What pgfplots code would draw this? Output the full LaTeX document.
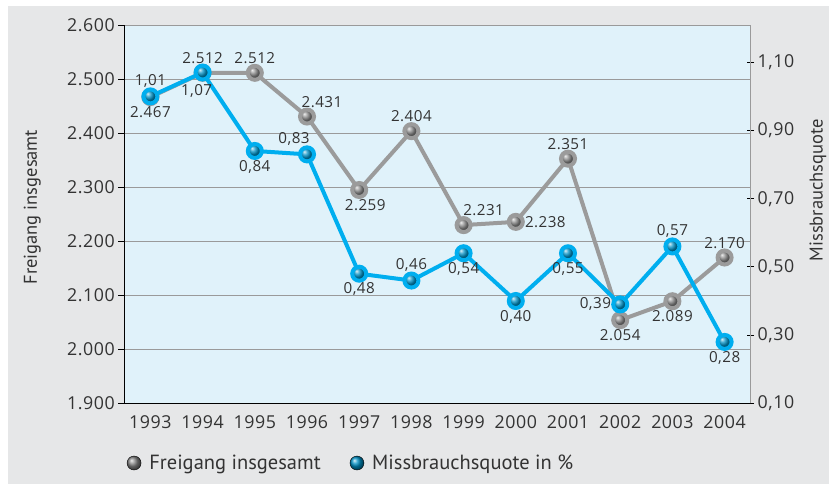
\documentclass[border=0pt]{standalone}
\usepackage{pgfplots}
\pgfplotsset{compat=1.18}
\usepackage{fontspec}
\setmainfont{PT Sans}
\newfontfamily\numfont{Open Sans}[LetterSpace=3]
\definecolor{outerbg}{HTML}{E6E7E8}
\definecolor{plotbg}{HTML}{E0F2FA}
\definecolor{gridgray}{HTML}{9A9A9A}
\definecolor{serGray}{HTML}{9B9B9B}
\definecolor{serBlue}{HTML}{00AEEF}
\definecolor{markBlue}{HTML}{0090C4}
\definecolor{markGray}{HTML}{858585}
\definecolor{txt}{HTML}{333333}
\newcommand\tickfont{\numfont\fontsize{17.8}{21}\selectfont}
\newcommand\labfont{\numfont\fontsize{15.2}{18}\selectfont}
\newcommand\legfont{\fontsize{20.5}{23}\selectfont}

\pgfplotsset{
  common/.style={
    at={(124.3pt,80.7pt)}, anchor=south west,
    width=626.4pt, height=378pt, scale only axis,
    xmin=-0.5, xmax=11.5,
    ticklabel style={font=\tickfont, text=txt},
    label style={font=\fontsize{18.5}{21}\selectfont, text=txt},
  },
  labs/.style={draw=none, mark=none, nodes near coords, point meta=explicit symbolic,
    every node near coord/.append style={#1, inner sep=9pt, font=\labfont, text=txt}},
  gmark/.style={mark=ball, mark size=7pt, mark options={ball color=markGray, draw=none}},
  bmark/.style={mark=ball, mark size=7pt, mark options={ball color=markBlue, draw=none}},
}

\begin{document}
\begin{tikzpicture}
\useasboundingbox (0pt,0pt) rectangle (829pt,484pt);
\fill[white] (0pt,0pt) rectangle (829pt,484pt);
\fill[outerbg] (8pt,0pt) rectangle (829pt,478pt);
\begin{axis}[common,
  axis background/.style={fill=plotbg},
  axis x line*=bottom, axis y line*=left,
  axis line style={black, line width=0.9pt},
  ymin=1900, ymax=2600, ytick={1900,2000,...,2600},
  ymajorgrids, grid style={gridgray, line width=1.3pt},
  yticklabel style={/pgf/number format/1000 sep={.}, /pgf/number format/assume math mode=true},
  y tick style={black, line width=0.9pt}, tick align=outside, major tick length=6pt,
  xtick={0,...,11}, xticklabels={1993,1994,1995,1996,1997,1998,1999,2000,2001,2002,2003,2004},
  x tick style={draw=none},
  minor xtick={-0.5,0.5,...,11.5}, minor tick length=6pt,
  minor x tick style={black, line width=0.9pt},
  xticklabel style={yshift=-3pt},
  ylabel={Freigang insgesamt},
  ylabel style={at={(axis description cs:-0.147,0.519)}, anchor=center},
  clip=false,
]
\addplot[serGray, line width=4pt, gmark]
  coordinates {(0,2467) (1,2512) (2,2512) (3,2431) (4,2295) (5,2404)
               (6,2230) (7,2236) (8,2353) (9,2054) (10,2089) (11,2170)};
\addplot[labs={anchor=north}] coordinates {(0,2467) [2.467] (9,2054) [2.054] (10,2089) [2.089]};
\addplot[labs={anchor=south}] coordinates {(1,2512) [2.512] (2,2512) [2.512] (5,2404) [2.404] (8,2353) [2.351] (11,2170) [2.170]};
\addplot[labs={anchor=south, xshift=15pt}] coordinates {(3,2431) [2.431]};
\addplot[labs={anchor=north, xshift=6pt}] coordinates {(4,2295) [2.259]};
\addplot[labs={anchor=south, xshift=20pt}] coordinates {(6,2230) [2.231]};
\addplot[labs={anchor=west}] coordinates {(7,2236) [2.238]};
\end{axis}
\begin{axis}[common,
  axis x line=none, axis y line*=right,
  axis line style={gridgray, line width=1.3pt},
  ymin=0.10, ymax=1.2085, ytick={0.1,0.3,...,1.1},
  yticklabel style={/pgf/number format/.cd, fixed, fixed zerofill, precision=2, use comma, assume math mode=true},
  y tick style={black, line width=0.9pt}, tick align=center, major tick length=7pt,
  ylabel={Missbrauchsquote},
  ylabel style={at={(axis description cs:1.1075,0.564)}, anchor=center, rotate=0},
  clip=false,
  legend style={at={(axis description cs:-0.001,-0.158)}, anchor=west, draw=none, fill=none,
    font=\legfont, text=txt, legend columns=2,
    /tikz/every even column/.append style={column sep=27pt}},
  legend cell align=left,
]
\addlegendimage{only marks, gmark}
\addlegendentry{\hspace{6pt}Freigang insgesamt}
\addlegendimage{only marks, bmark}
\addlegendentry{\hspace{6pt}Missbrauchsquote in \%}
\addplot[forget plot, serBlue, line width=4pt, bmark]
  coordinates {(0,1.00) (1,1.07) (2,0.84) (3,0.83) (4,0.48) (5,0.46)
               (6,0.54) (7,0.40) (8,0.54) (9,0.39) (10,0.56) (11,0.28)};
\addplot[forget plot, labs={anchor=south}] coordinates {(0,1.00) [1,01] (5,0.46) [0,46] (10,0.56) [0,57]};
\addplot[forget plot, labs={anchor=north}] coordinates {(2,0.84) [0,84] (4,0.48) [0,48] (6,0.54) [0,54] (7,0.40) [0,40] (8,0.54) [0,55] (11,0.28) [0,28]};
\addplot[forget plot, labs={anchor=north, xshift=-6pt, yshift=-3pt}] coordinates {(1,1.07) [1,07]};
\addplot[forget plot, labs={anchor=south, xshift=-13pt}] coordinates {(3,0.83) [0,83]};
\addplot[forget plot, labs={anchor=east}] coordinates {(9,0.39) [0,39]};
\end{axis}
\end{tikzpicture}
\end{document}
